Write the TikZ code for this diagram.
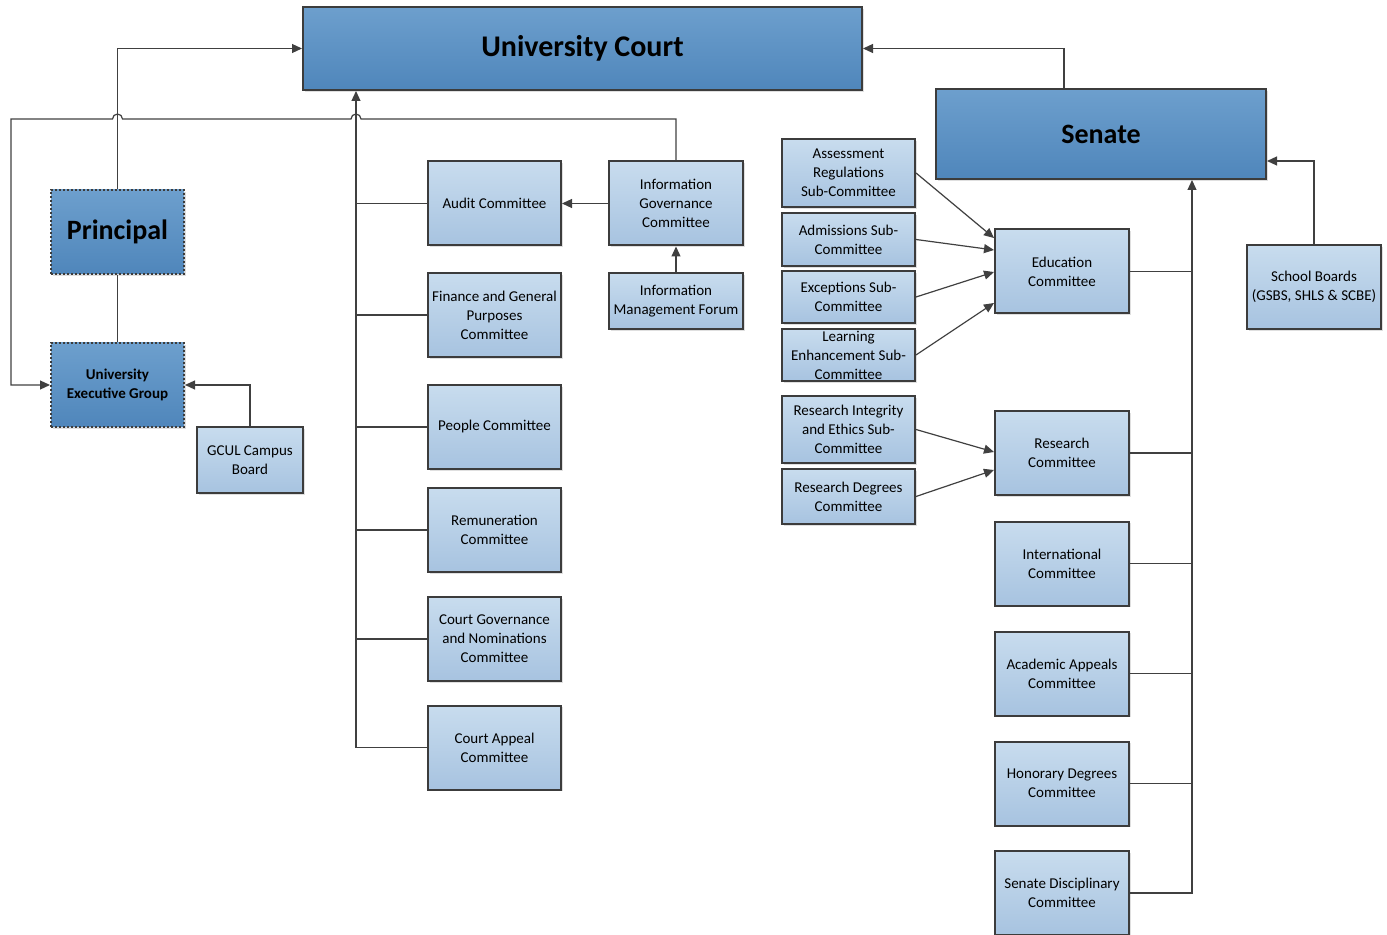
\documentclass[tikz,border=0pt]{standalone}
\usepackage{fontspec}
\setmainfont{Carlito}
\usetikzlibrary{arrows.meta,calc,shadows}

\definecolor{linegray}{HTML}{404040}
\definecolor{boxline}{HTML}{3C3C3C}
\definecolor{lighttop}{HTML}{C8DCEE}
\definecolor{lightbot}{HTML}{A7C3E0}
\definecolor{darktop}{HTML}{6D9FCD}
\definecolor{darkbot}{HTML}{4F86BB}

\tikzset{
  box/.style={draw=boxline, line width=1pt, top color=lighttop, bottom color=lightbot,
    align=center, inner sep=1pt, font=\fontsize{7.5}{9.5}\selectfont,
    minimum width=66.5pt, minimum height=42pt,
    drop shadow={shadow xshift=0.8pt, shadow yshift=-0.8pt, opacity=0.25, fill=black!50}},
  bigbox/.style={box, top color=darktop, bottom color=darkbot, font=\bfseries\fontsize{14}{16}\selectfont},
  dotbox/.style={bigbox, densely dotted},
  conn/.style={draw=linegray, line width=0.6pt, -{Triangle[length=5pt,width=4.5pt]}},
  link/.style={draw=linegray, line width=0.6pt}
}

\begin{document}
\begin{tikzpicture}[x=0.5pt, y=-0.5pt]
  \useasboundingbox (0,0) rectangle (1387,935);

  % styrende organer
  \node[bigbox, minimum width=279.5pt, minimum height=41.5pt, font=\bfseries\fontsize{15}{17}\selectfont] (court) at (582.5,48.5) {University Court};
  \node[bigbox, minimum width=165pt, minimum height=45pt] (senate) at (1101,134) {Senate};
  \node[dotbox] (princ) at (117.5,232) {Principal};
  \node[dotbox, font=\bfseries\fontsize{7.5}{9.5}\selectfont] (ueg) at (117.5,385) {University\\Executive Group};
  \node[box, minimum width=53pt, minimum height=33pt] (gcul) at (250,460) {GCUL Campus\\Board};

  % court-komiteer
  \node[box] (audit) at (494.5,203.5) {Audit Committee};
  \node[box] (fgp) at (494.5,315) {Finance and General\\Purposes\\Committee};
  \node[box] (people) at (494.5,427) {People Committee};
  \node[box] (remun) at (494.5,530) {Remuneration\\Committee};
  \node[box] (cgn) at (494.5,639) {Court Governance\\and Nominations\\Committee};
  \node[box] (appeal) at (494.5,747.5) {Court Appeal\\Committee};
  \node[box, minimum width=67pt] (igc) at (676,203.5) {Information\\Governance\\Committee};
  \node[box, minimum width=67pt, minimum height=28pt] (imf) at (676,301) {Information\\Management Forum};

  % underkomiteer
  \node[box, minimum height=34pt] (assess) at (848.5,173) {Assessment\\Regulations\\Sub-Committee};
  \node[box, minimum height=26.5pt] (admis) at (848.5,239.5) {Admissions Sub-\\Committee};
  \node[box, minimum height=26pt] (except) at (848.5,297) {Exceptions Sub-\\Committee};
  \node[box, minimum height=26pt] (learn) at (848.5,355) {Learning\\Enhancement Sub-\\Committee};
  \node[box, minimum height=33.5pt] (rie) at (848.5,429.5) {Research Integrity\\and Ethics Sub-\\Committee};
  \node[box, minimum height=27.5pt] (rdc) at (848.5,496.5) {Research Degrees\\Committee};

  % senate-komiteer
  \node[box, minimum width=67pt] (educ) at (1062,271.5) {Education\\Committee};
  \node[box, minimum width=67pt] (resc) at (1062,453) {Research\\Committee};
  \node[box, minimum width=67pt] (intl) at (1062,563.5) {International\\Committee};
  \node[box, minimum width=67pt] (acad) at (1062,673.5) {Academic Appeals\\Committee};
  \node[box, minimum width=67pt] (hon) at (1062,783.5) {Honorary Degrees\\Committee};
  \node[box, minimum width=67pt] (disc) at (1062,893) {Senate Disciplinary\\Committee};
  \node[box, minimum width=67pt] (school) at (1314,287) {School Boards\\(GSBS, SHLS \& SCBE)};

  % venstre side
  \draw[conn] (princ.north) |- (court.west);
  \draw[link] (princ.south) -- (ueg.north);
  \draw[conn] (igc.north) -- (igc.north |- 0,119) -- (361,119)
    arc[start angle=0, end angle=180, radius=2.5pt] -- (122.5,119)
    arc[start angle=0, end angle=180, radius=2.5pt] -- (11,119) |- (ueg.west);
  \draw[conn] (gcul.north) |- (ueg.east);

  % stamme til court
  \coordinate (ctrunk) at (356,747.5);
  \draw[conn] (appeal.west) -- (ctrunk) -- (ctrunk |- court.south);
  \foreach \n in {audit,fgp,people,remun,cgn}
    \draw[link] (\n.west) -- (\n.west -| ctrunk);
  \draw[conn] (igc.west) -- (audit.east);
  \draw[conn] (imf.north) -- (igc.south);

  % underkomiteer til education og research
  \draw[conn] (assess.east) -- ($(educ.west)+(0,-33.5)$);
  \draw[conn] (admis.east) -- ($(educ.west)+(0,-21.5)$);
  \draw[conn] (except.east) -- ($(educ.west)+(0,0.5)$);
  \draw[conn] (learn.east) -- ($(educ.west)+(0,31.5)$);
  \draw[conn] (rie.east) -- ($(resc.west)+(0,-1)$);
  \draw[conn] (rdc.east) -- ($(resc.west)+(0,17)$);

  % stamme til senate
  \coordinate (strunk) at (1192,893);
  \draw[conn] (disc.east) -- (strunk) -- (strunk |- senate.south);
  \foreach \n in {educ,resc,intl,acad,hon}
    \draw[link] (\n.east) -- (\n.east -| strunk);
  \draw[conn] (school.north) |- ($(senate.east)+(0,27)$);
  \draw[conn] ($(senate.north)+(-37,0)$) |- (court.east);
\end{tikzpicture}
\end{document}
